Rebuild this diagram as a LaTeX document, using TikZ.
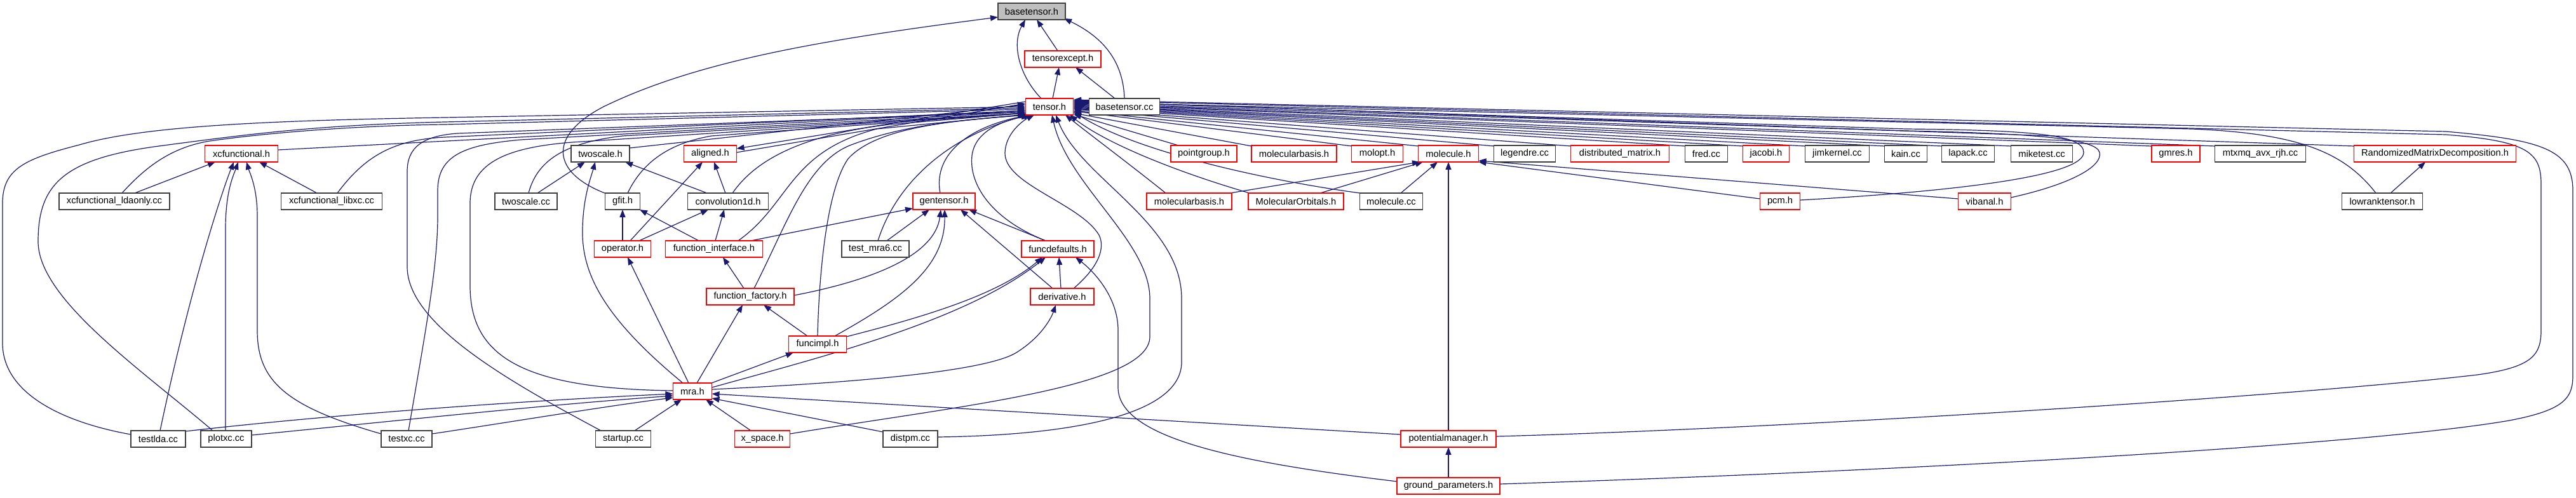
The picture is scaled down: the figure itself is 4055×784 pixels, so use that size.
\documentclass[tikz,border=0pt]{standalone}
\usepackage{fontspec}
\setmainfont{Liberation Sans}
\usetikzlibrary{arrows.meta,calc}
\definecolor{edgeblue}{HTML}{191970}
\definecolor{boxred}{HTML}{FF0000}
\definecolor{boxgray}{HTML}{404040}
\definecolor{rootfill}{HTML}{BFBFBF}
\newcommand\nfont{\fontsize{14.7pt}{17pt}\selectfont}
\pgfdeclarelayer{bg}
\pgfsetlayers{bg,main}
\tikzset{
  nb/.style={draw=boxgray, line width=1.3pt, fill=white, rectangle, minimum height=26pt, inner sep=0pt, font=\nfont},
  nr/.style={nb, draw=boxred},
  edg/.style={draw=edgeblue, line width=1.2pt, -{Triangle[length=12pt,width=9pt]}},
}
\begin{document}
\begin{tikzpicture}[x=1pt,y=-1pt]
\useasboundingbox (0,0) rectangle (4055,784);
% rows
\node[nb, fill=rootfill, minimum width=106pt] (basetensor) at (1624,18) {basetensor.h};
\node[nr, minimum width=120pt] (tensorexcept) at (1673,93) {tensorexcept.h};
\node[nr, minimum width=75pt] (tensor) at (1652,168) {tensor.h};
\node[nb, minimum width=111pt] (basetensorcc) at (1770,168) {basetensor.cc};
\node[nr, minimum width=115pt] (xcfunctional) at (380,242) {xcfunctional.h};
\node[nb, minimum width=92pt] (twoscaleh) at (945,242) {twoscale.h};
\node[nr, minimum width=83pt] (aligned) at (1118,242) {aligned.h};
\node[nr, minimum width=104pt] (pointgroup) at (1895,242) {pointgroup.h};
\node[nr, minimum width=134pt] (molbasisA) at (2037,242) {molecularbasis.h};
\node[nr, minimum width=81pt] (molopt) at (2168,242) {molopt.h};
\node[nr, minimum width=95pt] (molecule) at (2280,242) {molecule.h};
\node[nb, minimum width=97pt] (legendre) at (2400,242) {legendre.cc};
\node[nr, minimum width=155pt] (distmatrix) at (2550,242) {distributed\_matrix.h};
\node[nb, minimum width=67pt] (fred) at (2686,242) {fred.cc};
\node[nr, minimum width=73pt] (jacobi) at (2780,242) {jacobi.h};
\node[nb, minimum width=101pt] (jimkernel) at (2892,242) {jimkernel.cc};
\node[nb, minimum width=67pt] (kain) at (3000,242) {kain.cc};
\node[nb, minimum width=83pt] (lapack) at (3098,242) {lapack.cc};
\node[nb, minimum width=97pt] (miketest) at (3214,242) {miketest.cc};
\node[nr, minimum width=76pt] (gmres) at (3425,242) {gmres.h};
\node[nb, minimum width=143pt] (mtxmq) at (3558,242) {mtxmq\_avx\_rjh.cc};
\node[nr, minimum width=255pt] (rmd) at (3833,242) {RandomizedMatrixDecomposition.h};
\node[nb, minimum width=174pt] (ldaonly) at (180,317) {xcfunctional\_ldaonly.cc};
\node[nb, minimum width=159pt] (libxc) at (522,317) {xcfunctional\_libxc.cc};
\node[nb, minimum width=98pt] (twoscalecc) at (828,317) {twoscale.cc};
\node[nb, minimum width=55pt] (gfit) at (980,317) {gfit.h};
\node[nb, minimum width=127pt] (conv) at (1146,317) {convolution1d.h};
\node[nr, minimum width=98pt] (gentensor) at (1486,317) {gentensor.h};
\node[nr, minimum width=134pt] (molbasisB) at (1872,317) {molecularbasis.h};
\node[nr, minimum width=150pt] (molorb) at (2040,317) {MolecularOrbitals.h};
\node[nb, minimum width=99pt] (moleculecc) at (2190,317) {molecule.cc};
\node[nr, minimum width=63pt] (pcm) at (2802,317) {pcm.h};
\node[nr, minimum width=83pt] (vibanal) at (3124,317) {vibanal.h};
\node[nb, minimum width=127pt] (lowrank) at (3750,317) {lowranktensor.h};
\node[nr, minimum width=89pt] (operator) at (980,392) {operator.h};
\node[nr, minimum width=153pt] (funciface) at (1124,392) {function\_interface.h};
\node[nb, minimum width=106pt] (testmra) at (1378,392) {test\_mra6.cc};
\node[nr, minimum width=114pt] (funcdef) at (1665,392) {funcdefaults.h};
\node[nr, minimum width=138pt] (funcfact) at (1181,467) {function\_factory.h};
\node[nr, minimum width=100pt] (deriv) at (1672,467) {derivative.h};
\node[nr, minimum width=91pt] (funcimpl) at (1287,542) {funcimpl.h};
\node[nr, minimum width=61pt] (mra) at (1090,616) {mra.h};
\node[nb, minimum width=86pt] (testlda) at (249,691) {testlda.cc};
\node[nb, minimum width=80pt] (plotxc) at (356,691) {plotxc.cc};
\node[nb, minimum width=80pt] (testxc) at (640,691) {testxc.cc};
\node[nb, minimum width=87pt] (startup) at (981,691) {startup.cc};
\node[nr, minimum width=87pt] (xspace) at (1200,691) {x\_space.h};
\node[nb, minimum width=86pt] (distpm) at (1433,691) {distpm.cc};
\node[nr, minimum width=150pt] (potmgr) at (2280,691) {potentialmanager.h};
\node[nr, minimum width=162pt] (ground) at (2280,765) {ground\_parameters.h};

\begin{pgfonlayer}{bg}
% ---- into tensor.h from the left
\draw[edg] ($(testlda)+(-43,-7)$) .. controls (100,665) and (4,620) .. (4,540) -- (4,320) .. controls (4,265) and (40,250) .. (125,228) .. controls (220,200) and (400,190) .. (700,185) -- ($(tensor)+(-38,0)$);
\draw[edg] ($(plotxc)+(-21,-13)$) .. controls (220,580) and (60,470) .. (60,380) .. controls (60,290) and (100,250) .. (250,230) .. controls (400,210) and (500,197) .. (700,192) -- ($(tensor)+(-38,2)$);
\draw[edg] ($(ldaonly)+(12,-13)$) .. controls (230,262) and (270,232) .. (330,222) .. controls (450,205) and (600,197) .. (700,196) -- ($(tensor)+(-38,4)$);
\draw[edg] ($(xcfunctional)+(57.5,-6)$) -- ($(tensor)+(-38,6)$);
\draw[edg] ($(libxc)+(9,-13)$) .. controls (575,245) and (620,220) .. (700,216) -- ($(tensor)+(-38,6)$);
\draw[edg] ($(startup)+(-35,-13)$) .. controls (800,600) and (641,510) .. (641,420) -- (641,270) .. controls (641,232) and (665,214) .. (720,210) -- ($(tensor)+(-38,8)$);
\draw[edg] ($(testxc)+(3,-13)$) .. controls (670,520) and (689,420) .. (689,340) -- (689,300) .. controls (689,245) and (730,228) .. (820,220) -- ($(tensor)+(-38,8)$);
\draw[edg] ($(mra)+(-30.5,-1)$) .. controls (820,612) and (740,560) .. (740,450) -- (740,320) .. controls (740,255) and (800,232) .. (900,224) -- ($(tensor)+(-38,10)$);
\draw[edg] ($(twoscalecc)+(4,-13)$) .. controls (845,255) and (885,225) .. (980,214) -- ($(tensor)+(-38,10)$);
\draw[edg] ($(twoscaleh)+(46,-9)$) -- ($(tensor)+(-38,-3)$);
\draw[edg] ($(gfit)+(8,-13)$) .. controls (1010,258) and (1050,226) .. (1120,214) -- ($(tensor)+(-38,10)$);
\draw[edg] ($(gfit)+(-28,-13)$) .. controls (870,272) and (860,215) .. (950,168) .. controls (1100,95) and (1300,62) .. ($(basetensor)+(-53,9)$);
\draw[edg] ($(aligned)+(41.5,-2)$) -- ($(tensor)+(-38,-5)$);
\draw[edg] ($(tensor)+(-38,-8)$) -- ($(aligned)+(41.5,-8)$);
\draw[edg] ($(conv)+(7,-13)$) .. controls (1185,258) and (1250,214) .. (1400,196) -- ($(tensor)+(-38,10)$);
\draw[edg] ($(funciface)+(38,-13)$) .. controls (1245,320) and (1240,240) .. (1380,203) -- ($(tensor)+(-37,12)$);
\draw[edg] ($(funcfact)+(6,-13)$) .. controls (1240,350) and (1270,255) .. (1340,228) .. controls (1420,198) and (1500,190) .. ($(tensor)+(-37,13)$);
\draw[edg] ($(funcimpl)+(0,-13)$) .. controls (1289,440) and (1300,300) .. (1335,250) .. controls (1380,200) and (1500,190) .. ($(tensor)+(-35,13)$);
\draw[edg] ($(testmra)+(4,-13)$) .. controls (1410,290) and (1490,215) .. ($(tensor)+(-33,13)$);
\draw[edg] ($(gentensor)+(-6,-13)$) .. controls (1468,240) and (1530,198) .. ($(tensor)+(-30,13)$);
\draw[edg] ($(funcdef)+(-19,-13)$) .. controls (1560,345) and (1525,290) .. (1530,245) .. controls (1535,205) and (1580,190) .. ($(tensor)+(-28,13)$);
\draw[edg] ($(deriv)+(18,-13)$) .. controls (1730,420) and (1740,390) .. (1730,370) .. controls (1700,320) and (1580,290) .. (1582,240) .. controls (1583,210) and (1610,190) .. ($(tensor)+(-24,13)$);
\draw[edg] ($(xspace)+(43.5,-8)$) .. controls (1500,640) and (1810,610) .. (1810,530) -- (1810,470) .. controls (1810,380) and (1680,290) .. ($(tensor)+(4,13)$);
\draw[edg] ($(distpm)+(43,-3)$) .. controls (1700,685) and (1860,650) .. (1860,570) -- (1860,470) .. controls (1860,350) and (1700,280) .. ($(tensor)+(10,13)$);
% ---- into tensor.h from the right
\draw[edg] ($(pointgroup)+(-40,-13)$) -- ($(tensor)+(38,12)$);
\draw[edg] ($(molbasisA)+(-67,-12)$) -- ($(tensor)+(38,10)$);
\draw[edg] ($(molbasisB)+(-37,-13)$) .. controls (1780,260) and (1720,215) .. ($(tensor)+(25,13)$);
\draw[edg] ($(molorb)+(-73,-13)$) .. controls (1850,270) and (1740,225) .. ($(tensor)+(32,13)$);
\draw[edg] ($(moleculecc)+(-49,-13)$) .. controls (2000,285) and (1790,240) .. ($(tensor)+(38,8)$);
\draw[edg] ($(molecule)+(-47,-12)$) -- ($(tensor)+(38,6)$);
\draw[edg] ($(molopt)+(-40,-12)$) -- ($(tensor)+(38,7)$);
\draw[edg] ($(legendre)+(-48,-12)$) -- ($(tensor)+(38,4)$);
\draw[edg] ($(distmatrix)+(-77,-12)$) -- ($(tensor)+(38,3)$);
\draw[edg] ($(fred)+(-33,-12)$) -- ($(tensor)+(38,2)$);
\draw[edg] ($(jacobi)+(-36,-12)$) -- ($(tensor)+(38,1)$);
\draw[edg] ($(jimkernel)+(-50,-12)$) -- ($(tensor)+(38,0)$);
\draw[edg] ($(kain)+(-33,-12)$) -- ($(tensor)+(38,-1)$);
\draw[edg] ($(lapack)+(-41,-12)$) -- ($(tensor)+(38,-2)$);
\draw[edg] ($(miketest)+(-48,-12)$) -- ($(tensor)+(38,-3)$);
\draw[edg] ($(gmres)+(-38,-12)$) -- ($(tensor)+(38,-4)$);
\draw[edg] ($(mtxmq)+(-71,-12)$) -- ($(tensor)+(38,-5)$);
\draw[edg] ($(rmd)+(-127,-12)$) -- ($(tensor)+(38,-6)$);
\draw[edg] ($(lowrank)+(-10,-13)$) .. controls (3690,240) and (3620,210) .. (3450,203) -- ($(tensor)+(38,-7)$);
\draw[edg] ($(pcm)+(31.5,-2)$) .. controls (3100,300) and (3280,275) .. (3280,240) .. controls (3280,212) and (3200,205) .. (3000,203) -- ($(tensor)+(38,-8)$);
\draw[edg] ($(vibanal)+(41.5,-6)$) .. controls (3260,290) and (3310,262) .. (3305,240) .. controls (3300,218) and (3200,210) .. (3000,206) -- ($(tensor)+(38,-9)$);
\draw[edg] ($(potmgr)+(75,-4)$) .. controls (2800,675) and (3600,625) .. (3900,590) .. controls (3985,578) and (4000,560) .. (4000,520) -- (4000,290) .. controls (4000,240) and (3980,222) .. (3850,212) -- ($(tensor)+(38,-10)$);
\draw[edg] ($(ground)+(81,-3)$) .. controls (2900,745) and (3700,705) .. (3950,662) .. controls (4040,645) and (4050,625) .. (4050,590) -- (4050,300) .. controls (4050,235) and (4000,220) .. (3850,207) -- ($(tensor)+(38,-11)$);
% ---- top
\draw[edg] ($(tensor)+(5,-13)$) -- ($(tensorexcept)+(-6,13)$);
\draw[edg] ($(basetensorcc)+(-15,-13)$) -- ($(tensorexcept)+(20,13)$);
\draw[edg] ($(tensor)+(-13,-13)$) .. controls (1605,120) and (1592,70) .. ($(basetensor)+(-10,13)$);
\draw[edg] ($(tensorexcept)+(-8,-13)$) -- ($(basetensor)+(8,13)$);
\draw[edg] ($(basetensorcc)+(0,-13)$) .. controls (1768,95) and (1735,58) .. ($(basetensor)+(51,11)$);
% ---- xcfunctional
\draw[edg] ($(ldaonly)+(32,-13)$) -- ($(xcfunctional)+(-41,13)$);
\draw[edg] ($(libxc)+(-23,-13)$) -- ($(xcfunctional)+(28,13)$);
\draw[edg] ($(testlda)+(3,-13)$) .. controls (300,450) and (350,300) .. ($(xcfunctional)+(-12,13)$);
\draw[edg] ($(plotxc)+(-1,-13)$) -- (355,360) .. controls (355,300) and (368,275) .. ($(xcfunctional)+(-5,13)$);
\draw[edg] ($(testxc)+(-40,-8)$) .. controls (450,640) and (405,600) .. (405,520) -- (405,340) .. controls (405,295) and (393,272) .. ($(xcfunctional)+(8,13)$);
% ---- twoscale / aligned / gfit / convolution
\draw[edg] ($(twoscalecc)+(18,-13)$) -- ($(twoscaleh)+(-24,13)$);
\draw[edg] ($(conv)+(-33,-13)$) -- ($(twoscaleh)+(39,13)$);
\draw[edg] ($(mra)+(-15,-13)$) .. controls (950,500) and (915,430) .. (917,360) .. controls (918,310) and (930,280) .. ($(twoscaleh)+(-8,13)$);
\draw[edg] ($(operator)+(0,-13)$) -- ($(gfit)+(0,13)$);
\draw[edg] ($(funciface)+(-24,-13)$) -- ($(gfit)+(27,13)$);
\draw[edg] ($(operator)+(12,-13)$) -- ($(aligned)+(-12,13)$);
\draw[edg] ($(conv)+(-4,-13)$) -- ($(aligned)+(6,13)$);
\draw[edg] ($(operator)+(26,-13)$) -- ($(conv)+(-31,13)$);
\draw[edg] ($(funciface)+(2,-13)$) -- ($(conv)+(-6,13)$);
\draw[edg] ($(funciface)+(58,-13)$) -- ($(gentensor)+(-49,11)$);
\draw[edg] ($(funcfact)+(-10,-13)$) -- ($(funciface)+(14,13)$);
% ---- mra
\draw[edg] ($(mra)+(-6,-13)$) -- ($(operator)+(8,13)$);
\draw[edg] ($(mra)+(7,-13)$) -- ($(funcfact)+(-12,13)$);
\draw[edg] ($(mra)+(30,-13)$) -- ($(funcimpl)+(-38,13)$);
\draw[edg] ($(funcimpl)+(-16,-13)$) -- ($(funcfact)+(21,13)$);
\draw[edg] ($(startup)+(18,-13)$) -- ($(mra)+(-17,13)$);
\draw[edg] ($(xspace)+(-18,-13)$) -- ($(mra)+(21,13)$);
\draw[edg] ($(testlda)+(43,-12)$) .. controls (500,655) and (800,632) .. ($(mra)+(-30.5,4)$);
\draw[edg] ($(plotxc)+(40,-6)$) .. controls (600,665) and (850,638) .. ($(mra)+(-30.5,7)$);
\draw[edg] ($(testxc)+(40,-8)$) .. controls (800,665) and (950,640) .. ($(mra)+(-30.5,10)$);
\draw[edg] ($(mra)+(30.5,-6)$) .. controls (1300,560) and (1520,505) .. ($(funcdef)+(-19,13)$);
\draw[edg] ($(funcimpl)+(45.5,-12)$) .. controls (1450,500) and (1570,465) .. ($(funcdef)+(-24,13)$);
\draw[edg] ($(funcimpl)+(27,-13)$) .. controls (1420,470) and (1488,420) .. ($(gentensor)+(1,13)$);
\draw[edg] ($(funcfact)+(69,-2)$) .. controls (1380,440) and (1472,400) .. ($(gentensor)+(-5,13)$);
\draw[edg] ($(testmra)+(18,-13)$) -- ($(gentensor)+(-23,13)$);
\draw[edg] ($(deriv)+(-15,-13)$) -- ($(gentensor)+(26,13)$);
\draw[edg] ($(funcdef)+(-19,-13)$) -- ($(gentensor)+(39,13)$);
\draw[edg] ($(deriv)+(-2,-13)$) -- ($(funcdef)+(2,13)$);
\draw[edg] ($(ground)+(-81,-7)$) .. controls (1950,728) and (1760,690) .. (1760,610) -- (1760,520) .. controls (1760,470) and (1725,430) .. ($(funcdef)+(28,13)$);
\draw[edg] ($(mra)+(30.5,-3)$) .. controls (1400,600) and (1560,580) .. (1600,555) .. controls (1640,530) and (1655,500) .. ($(deriv)+(-10,13)$);
\draw[edg] ($(potmgr)+(-75,-7)$) -- ($(mra)+(30.5,4)$);
\draw[edg] ($(distpm)+(-43,-11)$) -- ($(mra)+(30.5,11)$);
% ---- molecule
\draw[edg] ($(molbasisB)+(64,-13)$) -- ($(molecule)+(-45,13)$);
\draw[edg] ($(molorb)+(38,-13)$) -- ($(molecule)+(-40,13)$);
\draw[edg] ($(moleculecc)+(15,-13)$) -- ($(molecule)+(-17,13)$);
\draw[edg] ($(potmgr)+(0,-13)$) -- ($(molecule)+(0,13)$);
\draw[edg] ($(ground)+(0,-13)$) -- ($(potmgr)+(0,13)$);
\draw[edg] ($(pcm)+(-31.5,-4)$) -- ($(molecule)+(47.5,13)$);
\draw[edg] ($(vibanal)+(-41.5,-4)$) -- ($(molecule)+(47.5,11)$);
\draw[edg] ($(lowrank)+(13,-13)$) -- ($(rmd)+(-15,13)$);
\end{pgfonlayer}
\end{tikzpicture}
\end{document}
